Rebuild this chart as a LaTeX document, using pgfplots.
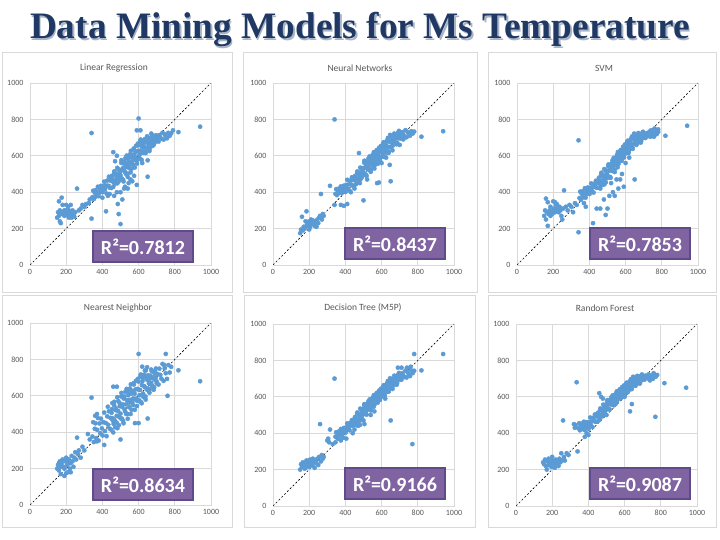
\documentclass[border=0pt]{standalone}
\usepackage{pgfplots}
\pgfplotsset{compat=1.18}
\usepackage{fontspec}
\setmainfont{Carlito}
\newfontfamily\titlefont{Liberation Serif}
\definecolor{ptc}{HTML}{5B9BD5}
\definecolor{gridc}{HTML}{D9D9D9}
\definecolor{bordc}{HTML}{D9D9D9}
\definecolor{tickc}{HTML}{595959}
\definecolor{purp}{HTML}{8064A2}
\definecolor{purpd}{HTML}{5F4B8B}
\definecolor{navy}{HTML}{1F3864}
\definecolor{shadow}{HTML}{A9B4C6}
\pgfplotsset{
  panel/.style={
    width=181pt, height=182pt, scale only axis, anchor=south west,
    xmin=0, xmax=1000, ymin=0, ymax=1000,
    xtick={0,200,...,1000}, ytick={0,200,...,1000},
    grid=major, major grid style={draw=gridc, line width=0.7pt},
    axis line style={draw=gridc, line width=0.7pt},
    major tick length=0pt,
    ticklabel style={font=\fontsize{8}{9}\selectfont, text=tickc},
    yticklabel style={xshift=-3pt},
    xticklabel style={yshift=-1pt},
    /pgf/number format/assume math mode=true,
    /pgf/number format/set thousands separator={},
  },
  pts/.style={only marks, mark=*, mark size=2.1pt, color=ptc, mark options={fill=ptc, draw=none}},
  diag/.style={black, line width=0.6pt, dash pattern=on 2pt off 2pt},
}
\tikzset{rbox/.style={fill=purp, draw=purpd, line width=2pt, minimum width=100pt, minimum height=31pt, text=white, font=\bfseries\fontsize{20}{22}\selectfont, inner sep=0pt}}
\begin{document}
\begin{tikzpicture}
\path[use as bounding box, fill=white] (0pt,0pt) rectangle (720pt,540pt);
% panel borders
\draw[bordc, line width=0.8pt] (2pt,248pt) rectangle (232pt,488pt);
\draw[bordc, line width=0.8pt] (243pt,248pt) rectangle (477pt,488pt);
\draw[bordc, line width=0.8pt] (488pt,248pt) rectangle (716pt,488pt);
\draw[bordc, line width=0.8pt] (2pt,13pt) rectangle (232pt,245pt);
\draw[bordc, line width=0.8pt] (244pt,13pt) rectangle (475pt,245pt);
\draw[bordc, line width=0.8pt] (488pt,13pt) rectangle (716pt,245pt);
% main title
\node[anchor=base, text=shadow, font=\titlefont\bfseries\fontsize{37.3}{40}\selectfont] at (361.5pt,499.5pt) {Data Mining Models for Ms Temperature};
\node[anchor=base, text=navy, font=\titlefont\bfseries\fontsize{37.3}{40}\selectfont] at (360pt,501pt) {Data Mining Models for Ms Temperature};
% panel titles
\foreach \x/\y/\t in {114/472/Linear Regression, 360/472/Neural Networks, 604/472/SVM, 118/232/Nearest Neighbor, 363/232/Decision Tree (M5P), 605/232/Random Forest}
  \node[text=tickc, font=\fontsize{9.5}{11}\selectfont] at (\x pt,\y pt) {\t};

% 1 Linear Regression
\begin{axis}[panel, at={(30pt,275pt)}]
\addplot[pts] coordinates {
(150,260)(155,290)(160,350)(165,240)(170,230)(175,370)(165,300)(180,330)(185,280)(190,270)(195,290)(200,300)(205,275)(210,285)(215,300)(220,270)(225,290)(230,280)(235,300)(240,275)(200,330)(210,320)(225,330)(245,265)(250,290)(180,290)(190,300)(160,270)(170,280)(215,260)(230,260)(260,420)(270,300)(280,310)(290,330)(300,320)(310,335)(325,340)(330,360)(340,255)(340,725)
(345,373)(349,408)(353,363)(358,397)(362,411)(366,378)(371,400)(375,430)(379,378)(384,421)(388,400)(392,435)(397,415)(401,400)(405,433)(410,458)(414,416)(418,437)(423,393)(427,464)(431,436)(436,485)(440,425)(444,464)(449,423)(453,490)(457,466)(462,453)(466,515)(470,447)(475,501)(479,482)(483,449)(488,526)(492,484)(496,515)(501,474)(505,576)(509,521)(514,468)(518,557)(522,516)(527,587)(531,500)(535,557)(540,484)(544,592)(548,532)(553,564)(557,627)(561,528)(566,605)(570,578)(574,634)(579,536)(583,619)(587,585)(592,578)(596,667)(600,627)(605,605)(609,680)(613,580)(618,649)(622,667)(626,616)(631,648)(635,692)(639,615)(644,678)(648,645)(652,698)(657,665)(661,640)(665,688)(670,722)(674,657)(678,686)(683,660)(687,700)(691,685)(696,713)(700,680)(705,701)(710,678)(715,714)(720,701)(726,693)(732,727)(738,689)(744,718)(750,708)(757,696)(764,726)(772,710)(780,723)
(451,479)(456,461)(460,429)(465,505)(469,464)(474,495)(478,463)(482,534)(487,498)(491,461)(495,523)(500,492)(504,561)(508,475)(513,532)(517,459)(521,567)(526,508)(530,538)(534,601)(539,502)(543,578)(547,550)(552,608)(556,509)(560,592)(565,559)(569,550)(573,640)(578,600)(582,579)(586,655)(591,557)(595,627)(599,658)(604,585)(608,627)(612,689)(617,577)(621,657)(625,625)(630,679)(634,646)(638,623)(643,672)(647,707)(651,643)(656,673)(660,626)(664,696)(669,667)(673,715)(677,654)(682,689)(686,667)(690,704)(695,692)(699,684)
(420,295)(485,335)(490,280)(500,225)(510,360)(465,380)(525,430)(545,450)(555,470)(565,460)(575,490)(590,440)(620,560)(650,485)(650,575)(590,740)(610,740)(600,805)(820,730)(940,760)(790,740)(460,620)(480,600)(470,570)(500,400)(520,420)(540,420)(480,400)(440,390)(400,370)(430,380)
};
\addplot[diag] coordinates {(0,0)(1000,1000)};
\end{axis}

% 2 Neural Networks
\begin{axis}[panel, at={(273pt,275pt)}]
\addplot[pts] coordinates {
(150,175)(155,195)(160,265)(165,190)(170,210)(175,200)(180,240)(185,295)(185,215)(190,230)(195,220)(200,240)(205,210)(210,235)(215,225)(220,245)(225,230)(230,215)(235,240)(240,225)(245,250)(250,230)(255,260)(260,270)(265,390)(270,250)(275,280)(280,270)(200,195)(210,250)(230,235)(240,210)
(345,391)(349,417)(353,384)(358,408)(362,419)(366,395)(371,410)(375,432)(379,395)(384,426)(388,410)(392,436)(397,421)(401,401)(405,440)(410,468)(414,419)(418,443)(423,408)(427,464)(431,443)(436,482)(440,436)(444,467)(449,436)(453,489)(457,473)(462,464)(466,514)(470,462)(475,507)(479,493)(483,470)(488,531)(492,501)(496,526)(501,497)(505,573)(509,534)(514,496)(518,562)(522,532)(527,585)(531,522)(535,565)(540,512)(544,593)(548,549)(553,573)(557,620)(561,547)(566,605)(570,585)(574,628)(579,556)(583,617)(587,593)(592,588)(596,654)(600,625)(605,611)(609,667)(613,595)(618,648)(622,671)(626,617)(631,651)(635,698)(639,616)(644,683)(648,649)(652,705)(657,672)(661,655)(665,693)(670,722)(674,673)(678,697)(683,663)(687,719)(691,697)(696,737)(700,697)(705,718)(710,694)(715,730)(720,716)(726,707)(732,741)(738,702)(744,731)(750,720)(757,710)(764,735)(772,722)(780,733)
(451,480)(456,468)(460,445)(465,506)(469,475)(474,502)(478,478)(482,535)(487,509)(491,482)(495,532)(500,510)(504,562)(508,499)(513,543)(517,489)(521,570)(526,527)(530,550)(534,597)(539,525)(543,582)(547,562)(552,606)(556,533)(560,594)(565,571)(569,565)(573,631)(578,603)(582,588)(586,644)(591,573)(595,625)(599,648)(604,595)(608,628)(612,675)(617,594)(621,660)(625,626)(630,684)(634,649)(638,624)(643,677)(647,715)(651,647)(656,680)(660,630)(664,699)(669,679)(673,717)(677,672)(682,704)(686,672)(690,725)(695,708)(699,697)
(560,530)(575,450)(645,550)(650,460)(500,355)(340,330)(375,330)(392,325)(410,335)(475,615)(340,800)(820,705)(940,735)(315,435)(585,453)(430,400)(450,420)(520,470)(600,560)(700,660)(720,690)(625,590)(480,450)
};
\addplot[diag] coordinates {(0,0)(1000,1000)};
\end{axis}

% 3 SVM
\begin{axis}[panel, at={(517pt,275pt)}]
\addplot[pts] coordinates {
(150,270)(155,300)(160,365)(160,250)(165,290)(170,345)(170,215)(175,280)(180,300)(185,320)(190,290)(195,280)(200,300)(205,310)(210,290)(215,330)(220,300)(225,310)(230,290)(235,320)(240,300)(245,270)(250,250)(255,310)(260,410)(200,350)(210,345)(220,335)(185,270)(270,320)(280,300)(290,330)(300,320)(310,290)(320,340)(330,330)(340,180)(340,685)
(345,368)(349,403)(353,358)(358,391)(362,405)(366,372)(371,393)(375,422)(379,370)(384,412)(388,391)(392,426)(397,405)(401,390)(405,423)(410,448)(414,406)(418,427)(423,398)(427,447)(431,429)(436,463)(440,424)(444,451)(449,425)(453,480)(457,457)(462,444)(466,507)(470,439)(475,493)(479,475)(483,443)(488,520)(492,479)(496,510)(501,479)(505,552)(509,517)(514,484)(518,548)(522,522)(527,574)(531,516)(535,558)(540,511)(544,589)(548,549)(553,574)(557,620)(561,556)(566,607)(570,592)(574,629)(579,572)(583,625)(587,606)(592,605)(596,662)(600,639)(605,628)(609,676)(613,616)(618,661)(622,681)(626,637)(631,666)(635,706)(639,638)(644,695)(648,667)(652,707)(657,686)(661,669)(665,702)(670,725)(674,682)(678,702)(683,672)(687,719)(691,700)(696,732)(700,699)(705,715)(710,698)(715,724)(720,714)(726,708)(732,733)(738,705)(744,726)(750,718)(757,705)(764,735)(772,719)(780,731)
(451,469)(456,452)(460,420)(465,497)(469,456)(474,488)(478,456)(482,527)(487,492)(491,455)(495,518)(500,491)(504,542)(508,484)(513,527)(517,479)(521,556)(526,518)(530,542)(534,588)(539,523)(543,578)(547,561)(552,604)(556,537)(560,595)(565,577)(569,575)(573,632)(578,610)(582,600)(586,649)(591,591)(595,637)(599,658)(604,615)(608,643)(612,683)(617,616)(621,672)(625,644)(630,693)(634,665)(638,645)(643,690)(647,722)(651,671)(656,691)(660,660)(664,707)(669,689)(673,720)(677,681)(682,707)(686,679)(690,723)(695,708)(699,698)
(420,230)(440,310)(490,275)(500,310)(460,310)(530,400)(520,450)(570,470)(590,430)(650,470)(540,380)(560,420)(510,380)(480,360)(600,560)(620,590)(550,470)(580,500)(820,710)(940,765)(740,740)(760,750)(780,745)(370,340)(380,320)
};
\addplot[diag] coordinates {(0,0)(1000,1000)};
\end{axis}

% 4 Nearest Neighbor
\begin{axis}[panel, at={(30pt,35pt)}]
\addplot[pts] coordinates {
(150,200)(155,220)(160,190)(165,240)(170,170)(175,230)(180,250)(185,210)(190,160)(195,240)(200,260)(205,220)(210,180)(215,250)(220,200)(225,230)(230,270)(235,240)(240,210)(245,260)(250,290)(255,250)(260,370)(265,280)(270,300)(280,260)(290,320)(300,300)(210,240)(190,200)(200,175)(225,180)(170,210)(160,230)
(345,376)(349,455)(353,346)(358,419)(362,449)(366,368)(371,413)(375,478)(379,354)(384,448)(388,395)(392,474)(397,421)(401,382)(405,455)(410,508)(414,406)(418,451)(423,378)(427,487)(431,441)(436,515)(440,420)(444,479)(449,413)(453,527)(457,477)(462,446)(466,567)(470,427)(475,531)(479,490)(483,422)(488,571)(492,485)(496,543)(501,476)(505,616)(509,539)(514,463)(518,585)(522,526)(527,622)(531,500)(535,577)(540,474)(544,622)(548,537)(553,578)(557,663)(561,523)(566,627)(570,586)(574,662)(579,523)(583,635)(587,585)(592,572)(596,693)(600,634)(605,603)(609,705)(613,565)(618,659)(622,699)(626,594)(631,653)(635,738)(639,579)(644,701)(648,632)(652,713)(657,669)(661,636)(665,699)(670,744)(674,657)(678,696)(683,633)(687,726)(691,687)(696,750)(700,669)(705,720)(710,662)(715,749)(720,715)(726,694)(732,775)(738,682)(744,751)(750,724)(757,693)(764,769)(772,728)(780,759)
(451,507)(456,467)(460,399)(465,548)(469,462)(474,521)(478,453)(482,592)(487,516)(491,439)(495,560)(500,502)(504,596)(508,475)(513,552)(517,449)(521,597)(526,513)(530,553)(534,638)(539,500)(543,603)(547,563)(552,640)(556,500)(560,612)(565,563)(569,549)(573,670)(578,612)(582,580)(586,683)(591,544)(595,638)(599,678)(604,575)(608,632)(612,717)(617,559)(621,680)(625,611)(630,715)(634,647)(638,596)(643,691)(647,757)(651,641)(656,680)(660,617)(664,710)(669,671)(673,734)(677,653)(682,704)(686,647)(690,734)(695,702)(699,680)
(320,390)(330,360)(340,590)(360,490)(370,500)(410,330)(370,350)(460,650)(480,650)(600,830)(750,830)(940,680)(820,740)(650,475)(580,450)(600,450)(760,600)(740,770)(620,760)(640,740)(500,360)(430,540)(455,560)
};
\addplot[diag] coordinates {(0,0)(1000,1000)};
\end{axis}

% 5 Decision Tree
\begin{axis}[panel, at={(273pt,34pt)}]
\addplot[pts] coordinates {
(150,200)(155,230)(160,215)(165,240)(170,220)(175,205)(180,235)(185,250)(190,225)(195,240)(200,215)(205,255)(210,230)(215,245)(220,220)(225,240)(230,210)(235,250)(240,235)(245,260)(250,225)(255,270)(260,450)(265,245)(270,280)(275,260)(280,270)(180,210)(200,250)(220,260)
(345,381)(349,405)(353,376)(358,399)(362,409)(366,388)(371,403)(375,423)(379,389)(384,418)(388,405)(392,429)(397,416)(401,403)(405,432)(410,454)(414,420)(418,439)(423,416)(427,457)(431,443)(436,472)(440,441)(444,465)(449,444)(453,489)(457,473)(462,464)(466,514)(470,463)(475,506)(479,493)(483,470)(488,531)(492,501)(496,526)(501,504)(505,560)(509,533)(514,506)(518,556)(522,535)(527,575)(531,530)(535,562)(540,525)(544,585)(548,554)(553,573)(557,609)(561,557)(566,600)(570,587)(574,619)(579,568)(583,614)(587,597)(592,595)(596,644)(600,624)(605,615)(609,657)(613,605)(618,645)(622,663)(626,625)(631,651)(635,687)(639,628)(644,678)(648,654)(652,696)(657,672)(661,658)(665,691)(670,716)(674,674)(678,695)(683,666)(687,715)(691,697)(696,731)(700,695)(705,717)(710,694)(715,730)(720,717)(726,709)(732,744)(738,706)(744,735)(750,725)(757,714)(764,745)(772,730)(780,743)
(451,480)(456,468)(460,445)(465,506)(469,475)(474,502)(478,478)(482,535)(487,509)(491,482)(495,532)(500,513)(504,552)(508,507)(513,540)(517,502)(521,562)(526,532)(530,550)(534,586)(539,535)(543,577)(547,564)(552,597)(556,545)(560,591)(565,575)(569,572)(573,621)(578,602)(582,592)(586,634)(591,583)(595,622)(599,640)(604,603)(608,628)(612,664)(617,606)(621,655)(625,631)(630,675)(634,651)(638,634)(643,674)(647,702)(651,653)(656,678)(660,643)(664,696)(669,679)(673,712)(677,674)(682,702)(686,675)(690,720)(695,706)(699,697)
(300,360)(305,370)(310,350)(315,420)(340,700)(345,350)(330,340)(360,370)(375,360)(390,375)(405,370)(440,400)(450,420)(470,440)(505,450)(650,470)(770,340)(780,835)(820,745)(940,835)(740,760)(760,765)(710,760)(690,760)(500,470)(560,520)(620,590)(480,445)(540,500)
};
\addplot[diag] coordinates {(0,0)(1000,1000)};
\end{axis}

% 6 Random Forest
\begin{axis}[panel, at={(516pt,34pt)}]
\addplot[pts] coordinates {
(150,240)(155,230)(160,255)(165,220)(170,200)(175,245)(180,260)(185,230)(190,240)(195,215)(200,250)(205,230)(210,240)(215,210)(220,255)(225,230)(230,245)(235,220)(240,260)(245,240)(250,290)(255,250)(260,470)(265,270)(270,250)(280,290)(290,280)(180,225)(200,270)(220,235)
(345,427)(349,455)(353,416)(358,442)(362,452)(366,423)(371,439)(375,463)(379,418)(384,452)(388,433)(392,461)(397,442)(401,424)(405,459)(410,486)(414,442)(418,464)(423,434)(427,485)(431,467)(436,503)(440,462)(444,491)(449,464)(453,513)(457,498)(462,490)(466,536)(470,490)(475,530)(479,519)(483,498)(488,554)(492,527)(496,550)(501,530)(505,582)(509,557)(514,533)(518,579)(522,561)(527,598)(531,557)(535,586)(540,553)(544,608)(548,580)(553,598)(557,630)(561,583)(566,622)(570,610)(574,639)(579,592)(583,634)(587,619)(592,617)(596,662)(600,643)(605,634)(609,673)(613,625)(618,661)(622,677)(626,642)(631,665)(635,697)(639,642)(644,688)(648,666)(652,699)(657,681)(661,668)(665,695)(670,715)(674,680)(678,697)(683,672)(687,711)(691,696)(696,723)(700,696)(705,709)(710,694)(715,716)(720,708)(726,702)(732,723)(738,700)(744,717)(750,710)(757,699)(764,724)(772,710)(780,720)
(451,504)(456,493)(460,472)(465,529)(469,501)(474,526)(478,505)(482,557)(487,534)(491,510)(495,556)(500,539)(504,575)(508,534)(513,564)(517,530)(521,585)(526,558)(530,575)(534,608)(539,562)(543,601)(547,589)(552,619)(556,572)(560,614)(565,599)(569,596)(573,641)(578,623)(582,614)(586,653)(591,606)(595,642)(599,658)(604,624)(608,646)(612,678)(617,625)(621,670)(625,647)(630,686)(634,664)(638,648)(643,684)(647,710)(651,668)(656,686)(660,660)(664,700)(669,684)(673,712)(677,679)(682,701)(686,678)(690,715)(695,703)(699,695)
(320,450)(325,430)(330,445)(335,680)(340,300)(380,380)(390,400)(400,390)(460,620)(470,600)(480,590)(630,520)(640,560)(770,490)(820,675)(940,650)(760,730)(750,700)(740,690)(500,500)(550,560)(600,600)
};
\addplot[diag] coordinates {(0,0)(1000,1000)};
\end{axis}

% R^2 boxes
\node[rbox] at (143pt,293.5pt) {R²=0.7812};
\node[rbox] at (395pt,296pt) {R²=0.8437};
\node[rbox] at (640pt,296pt) {R²=0.7853};
\node[rbox] at (143pt,55pt) {R²=0.8634};
\node[rbox] at (395pt,56pt) {R²=0.9166};
\node[rbox] at (640pt,56pt) {R²=0.9087};
\end{tikzpicture}
\end{document}
